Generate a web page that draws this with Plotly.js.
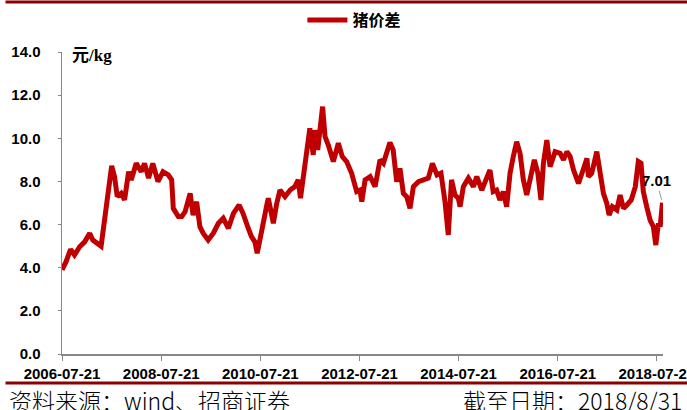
<!DOCTYPE html>
<html><head><meta charset="utf-8">
<script src="https://cdn.plot.ly/plotly-3.0.1.min.js"></script>
<style>html,body{margin:0;padding:0;background:#fff;}#chart{width:687px;height:410px;}</style>
</head><body><div id="chart"></div>
<script>
const seriesName = '猪价差';
const dates = [
'2006-07-21','2006-08-20','2006-09-22','2006-10-21','2006-11-28','2007-01-04','2007-02-10','2007-03-05','2007-05-05','2007-05-29','2007-06-18',
'2007-07-22','2007-08-12','2007-09-01','2007-09-30','2007-10-25','2007-11-24','2007-12-13','2008-01-19','2008-02-25','2008-03-20','2008-04-19',
'2008-05-20','2008-06-27','2008-08-03','2008-09-11','2008-10-06','2008-10-18','2008-11-24','2008-12-19','2009-01-13','2009-02-19','2009-03-13',
'2009-04-08','2009-05-02','2009-05-26','2009-07-02','2009-08-09','2009-09-15','2009-10-21','2009-11-28','2010-01-04','2010-02-15','2010-03-16',
'2010-04-23','2010-05-17','2010-06-11','2010-06-28','2010-07-18','2010-08-12','2010-09-07','2010-09-18','2010-10-25','2010-11-19','2010-12-13',
'2011-01-19','2011-02-26','2011-04-02','2011-04-26','2011-05-13','2011-06-02','2011-06-27','2011-07-21','2011-08-15','2011-08-27','2011-09-17',
'2011-10-04','2011-10-23','2011-11-10','2011-12-04','2012-01-10','2012-02-16','2012-03-16','2012-04-17','2012-05-24','2012-06-30','2012-07-24',
'2012-08-07','2012-08-31','2012-10-07','2012-11-13','2012-12-19','2013-01-13','2013-02-08','2013-03-02','2013-03-26','2013-04-21','2013-05-15',
'2013-06-09','2013-07-04','2013-07-28','2013-08-22','2013-09-28','2013-11-04','2013-12-10','2014-01-09','2014-02-12','2014-03-13','2014-04-12',
'2014-05-06','2014-05-30','2014-06-24','2014-07-19','2014-08-01','2014-08-25','2014-10-01','2014-11-07','2014-12-02','2015-01-08','2015-02-02',
'2015-03-09','2015-04-02','2015-04-27','2015-05-21','2015-06-15','2015-07-10','2015-08-04','2015-08-28','2015-09-22','2015-10-17','2015-11-10',
'2015-12-05','2015-12-29','2016-01-30','2016-02-25','2016-03-19','2016-04-06','2016-05-01','2016-05-25','2016-07-01','2016-08-07','2016-09-01',
'2016-09-26','2016-10-20','2016-11-14','2016-12-20','2017-01-15','2017-02-21','2017-03-03','2017-03-28','2017-05-04','2017-05-28','2017-06-22',
'2017-07-17','2017-08-03','2017-08-27','2017-09-29','2017-10-23','2017-11-17','2017-12-12','2018-01-13','2018-02-12','2018-03-06','2018-03-26',
'2018-04-12','2018-05-07','2018-06-01','2018-06-25','2018-07-13','2018-08-01','2018-08-14','2018-08-31'
];
const values = [
3.90,4.28,4.85,4.59,4.97,5.20,5.60,5.28,5.00,6.20,6.83,
8.72,8.22,7.30,7.45,7.14,8.45,8.07,8.84,8.45,8.84,8.15,
8.84,7.99,8.45,8.30,8.07,6.75,6.37,6.37,6.60,7.45,6.44,
7.06,5.90,5.60,5.28,5.60,6.06,6.29,5.83,6.52,6.91,6.52,
5.83,5.44,5.20,4.67,5.28,6.21,6.91,7.22,6.06,6.98,7.60,
7.29,7.60,7.76,8.07,7.22,8.22,9.30,10.46,9.23,10.38,9.46,
10.54,11.47,10.07,9.69,8.92,9.77,9.15,8.92,8.38,7.53,7.60,
7.06,8.07,8.22,7.76,9.00,8.84,9.38,9.80,9.46,7.99,8.61,
7.45,7.29,6.75,7.76,7.99,8.07,8.15,8.84,8.30,8.38,7.06,
5.52,8.07,7.37,7.22,6.83,7.76,8.15,7.76,8.22,7.60,7.99,
8.53,7.53,7.60,7.14,7.53,6.83,8.38,9.15,9.84,9.30,8.07,
7.37,7.99,9.00,8.38,7.14,8.84,9.92,8.68,9.38,9.30,9.00,
9.38,9.15,8.53,7.91,8.38,9.07,8.22,8.38,9.38,8.38,7.45,
6.98,6.44,6.83,6.68,7.37,6.75,6.91,7.14,7.76,8.92,8.84,
7.53,6.83,6.21,5.90,5.05,6.06,5.90,7.01
];
const xTickVals = ['2006-07-21','2008-07-21','2010-07-21','2012-07-21','2014-07-21','2016-07-21','2018-07-21'];
const yTickVals = [0,2,4,6,8,10,12,14];
const unitLabel = '元/kg';
const lastLabel = '7.01';
const sourceText = '资料来源：wind、招商证券';
const dateText = '截至日期：2018/8/31';

const numFont = 'Liberation Sans, Arial, sans-serif';
const cjkFont = 'Noto Sans CJK SC, sans-serif';
const darkRed = '#8B0000';

const trace = {
  x: dates, y: values, type: 'scatter', mode: 'lines', name: seriesName,
  line: {color: '#C00000', width: 5}
};

const layout = {
  width: 687, height: 410,
  margin: {l: 62, r: 24, t: 52, b: 56, autoexpand: false},
  paper_bgcolor: '#fff', plot_bgcolor: '#fff',
  showlegend: true,
  legend: {orientation: 'h', x: 0.40, xanchor: 'left', y: 1.106, yanchor: 'middle',
    font: {family: cjkFont, size: 16, color: '#000', weight: 'bold'}, itemwidth: 40, bgcolor: 'rgba(0,0,0,0)'},
  xaxis: {
    type: 'date', range: ['2006-07-21', '2018-09-04'],
    tickvals: xTickVals, ticktext: xTickVals,
    ticks: 'outside', ticklen: 5, tickcolor: '#888', tickwidth: 1,
    showline: true, linecolor: '#888', linewidth: 1.5,
    showgrid: false, zeroline: false,
    ticklabeloverflow: 'allow',
    tickfont: {family: numFont, size: 15, color: '#000', weight: 'bold'}
  },
  yaxis: {
    range: [0, 14], tickvals: yTickVals, tickformat: '.1f',
    ticks: 'outside', ticklen: 3, tickcolor: '#888', tickwidth: 1,
    showline: true, linecolor: '#888', linewidth: 1.5,
    showgrid: false, zeroline: false,
    ticklabelstandoff: 14,
    tickfont: {family: numFont, size: 15, color: '#000', weight: 'bold'}
  },
  shapes: [
    {type: 'line', xref: 'paper', yref: 'paper', x0: -0.094, x1: 1.05, y0: 1.1656, y1: 1.1656, line: {color: darkRed, width: 3}},
    {type: 'line', xref: 'paper', yref: 'paper', x0: -0.094, x1: 1.05, y0: -0.096, y1: -0.096, line: {color: darkRed, width: 3}}
  ],
  annotations: [
    {xref: 'paper', yref: 'paper', x: 0.0133, y: 0.99, xanchor: 'left', yanchor: 'middle', showarrow: false,
     text: unitLabel, font: {family: 'Liberation Serif, Noto Sans CJK SC, serif', size: 17, color: '#000', weight: 'bold'}},
    {x: dates[dates.length - 1], y: values[values.length - 1], xref: 'x', yref: 'y',
     text: lastLabel, showarrow: true, arrowhead: 0, arrowcolor: '#999', arrowwidth: 1, ax: -6, ay: -22, standoff: 3,
     font: {family: numFont, size: 15, color: '#000', weight: 'bold'}},
    {xref: 'paper', yref: 'paper', x: -0.0915, y: -0.152, xanchor: 'left', yanchor: 'middle', showarrow: false,
     text: sourceText, font: {family: cjkFont, size: 23, color: '#000', weight: 300}},
    {xref: 'paper', yref: 'paper', x: 1.035, y: -0.152, xanchor: 'right', yanchor: 'middle', showarrow: false,
     text: dateText, font: {family: cjkFont, size: 23, color: '#000', weight: 300}}
  ]
};

Plotly.newPlot('chart', [trace], layout, {displayModeBar: false, staticPlot: true});
</script>
</body></html>
